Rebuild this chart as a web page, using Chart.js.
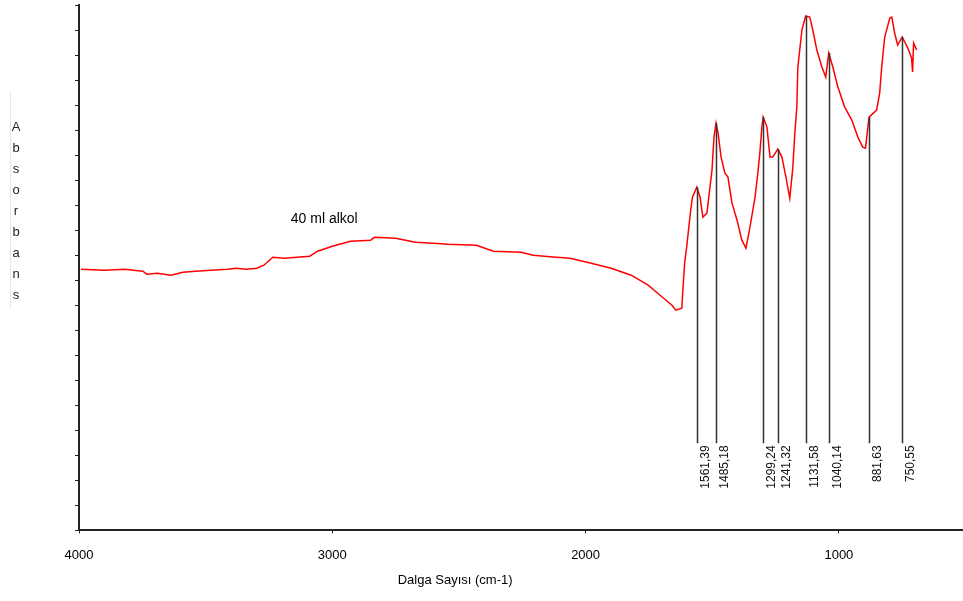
<!DOCTYPE html>
<html>
<head>
<meta charset="utf-8">
<script src="https://cdn.jsdelivr.net/npm/chart.js@4"></script>
<style>
  html, body { margin: 0; padding: 0; background: #fff; }
  #wrap { width: 963px; height: 601px; }
</style>
</head>
<body>
<div id="wrap"><canvas id="mycanvas" width="963" height="601"></canvas></div>
<script>
// spectrum (wavenumber cm-1 / absorbance)
var waveNumbers = [3992,3900,3820,3748,3732,3690,3637,3590,3539,3480,3413,3380,3340,3298,3270,3235,3188,3140,3089,3058,3000,2928,2849,2833,2750,2672,2600,2542,2431,2364,2254,2207,2140,2061,1978,1899,1820,1753,1706,1659,1644,1620,1616,1609,1601,1585,1578,1561,1548,1537,1521,1509,1501,1493,1485,1477,1465,1450,1438,1422,1402,1383,1367,1351,1331,1320,1312,1304,1299,1284,1272,1261,1241,1225,1209,1194,1182,1174,1166,1162,1146,1131,1115,1103,1087,1067,1052,1040,1024,1004,977,949,925,906,895,881,851,839,831,819,799,791,780,768,750,728,713,709,705,693];
var absorbance = [0.522,0.520,0.522,0.518,0.512,0.514,0.510,0.516,0.518,0.520,0.522,0.524,0.522,0.524,0.530,0.546,0.544,0.546,0.548,0.558,0.568,0.578,0.580,0.586,0.584,0.576,0.574,0.572,0.570,0.558,0.556,0.550,0.547,0.544,0.534,0.524,0.510,0.490,0.470,0.450,0.440,0.444,0.480,0.534,0.566,0.640,0.666,0.686,0.666,0.626,0.634,0.686,0.720,0.786,0.814,0.794,0.746,0.714,0.706,0.654,0.620,0.580,0.564,0.606,0.666,0.714,0.754,0.806,0.826,0.806,0.746,0.746,0.762,0.746,0.706,0.664,0.724,0.794,0.846,0.926,1.000,1.028,1.026,1.000,0.960,0.926,0.906,0.954,0.926,0.886,0.846,0.820,0.786,0.766,0.764,0.826,0.840,0.874,0.926,0.986,1.024,1.026,0.994,0.970,0.986,0.964,0.944,0.916,0.974,0.960];

// marked peaks
var peakWave = [1561.39, 1485.18, 1299.24, 1241.32, 1131.58, 1040.14, 881.63, 750.55];
var peakAbs = [0.686, 0.814, 0.826, 0.762, 1.028, 0.954, 0.826, 0.986];
var peakLabels = ["1561,39", "1485,18", "1299,24", "1241,32", "1131,58", "1040,14", "881,63", "750,55"];
var peakFoot = 0.174;

var xTicks = [4000, 3000, 2000, 1000];
var sampleName = "40 ml alkol";
var xTitle = "Dalga Sayısı (cm-1)";
var yTitle = "Absorbans";

var points = [];
for (var i in waveNumbers) {
    points.push({x: waveNumbers[i], y: absorbance[i]});
}

var FONT = "'Liberation Sans', Arial, sans-serif";

var extras = {
    id: 'extras',
    afterDatasetsDraw: function(chart) {
        var ctx = chart.ctx;
        var xs = chart.scales.x, ys = chart.scales.y;
        ctx.save();

        // peak marker lines + labels
        ctx.strokeStyle = '#333';
        ctx.lineWidth = 1.5;
        ctx.fillStyle = '#111';
        ctx.font = '12px ' + FONT;
        for (var i = 0; i < peakWave.length; i++) {
            var px = Math.round(xs.getPixelForValue(peakWave[i])) + 0.5;
            var top = ys.getPixelForValue(peakAbs[i]);
            var bot = ys.getPixelForValue(peakFoot);
            ctx.beginPath();
            ctx.moveTo(px, top);
            ctx.lineTo(px, bot);
            ctx.stroke();
            ctx.save();
            ctx.translate(px + 8, bot + 2);
            ctx.rotate(-Math.PI / 2);
            ctx.textAlign = 'right';
            ctx.textBaseline = 'middle';
            ctx.fillText(peakLabels[i], 0, 0);
            ctx.restore();
        }

        // sample name
        ctx.fillStyle = '#000';
        ctx.font = '14px ' + FONT;
        ctx.textAlign = 'left';
        ctx.textBaseline = 'middle';
        ctx.fillText(sampleName, xs.getPixelForValue(3164), ys.getPixelForValue(0.622));

        // x axis title
        ctx.font = '13px ' + FONT;
        ctx.textAlign = 'center';
        ctx.fillText(xTitle, xs.getPixelForValue(2515), 580);

        // y axis title, one letter per line
        ctx.fillStyle = '#222';
        for (var k = 0; k < yTitle.length; k++) {
            ctx.fillText(yTitle[k], 16, 127 + k * 21);
        }
        ctx.strokeStyle = '#e6e6e6';
        ctx.lineWidth = 1;
        ctx.beginPath();
        ctx.moveTo(10.5, 92);
        ctx.lineTo(10.5, 308);
        ctx.stroke();

        ctx.restore();
    }
};

var chartdata = {
    datasets: [
        {
            label: 'Absorbans',
            data: points,
            showLine: true,
            fill: false,
            borderColor: '#ff0000',
            borderWidth: 1.5,
            pointRadius: 0,
            tension: 0
        }
    ]
};

var ctx = document.getElementById('mycanvas');

var spectrum = new Chart(ctx, {
    type: 'scatter',
    data: chartdata,
    plugins: [extras],
    options: {
        responsive: false,
        animation: false,
        layout: { padding: { left: 75, top: 5, right: 0, bottom: 24 } },
        plugins: {
            legend: { display: false },
            tooltip: { enabled: false }
        },
        scales: {
            x: {
                type: 'linear',
                reverse: true,
                min: 510,
                max: 4000,
                afterBuildTicks: function(axis) {
                    axis.ticks = xTicks.map(function(v) { return {value: v}; });
                },
                grid: { drawOnChartArea: false, tickLength: 3, color: '#222' },
                border: { color: '#222', width: 2 },
                ticks: {
                    color: '#000',
                    padding: 14,
                    maxRotation: 0,
                    autoSkip: false,
                    font: { family: FONT, size: 13 },
                    callback: function(v) { return String(v); }
                }
            },
            y: {
                min: 0,
                max: 1.05,
                grid: { drawOnChartArea: false, tickLength: 4, color: '#222' },
                border: { color: '#222', width: 2 },
                ticks: { display: false, stepSize: 0.05 }
            }
        }
    }
});
</script>
</body>
</html>
